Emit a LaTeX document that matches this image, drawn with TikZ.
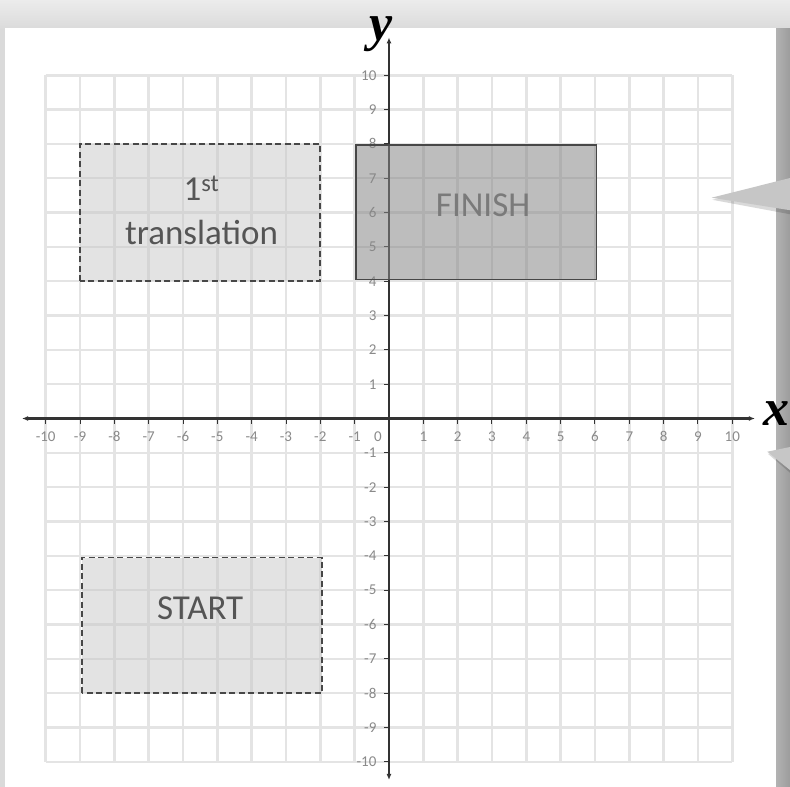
\documentclass[tikz,border=0pt]{standalone}
\usepackage{fontspec}
\setmainfont{Carlito}
\newfontfamily\axfont{Liberation Serif}
\usetikzlibrary{arrows.meta}
\definecolor{bgc}{HTML}{DADADA}
\definecolor{gridc}{HTML}{E4E4E4}
\definecolor{axisc}{HTML}{333333}
\definecolor{tickc}{HTML}{8A8A8A}
\definecolor{boxline}{HTML}{474747}
\definecolor{lightfill}{HTML}{C8C8C8}
\definecolor{darkfill}{HTML}{878787}
\definecolor{txtc}{HTML}{555555}
\definecolor{fintxt}{HTML}{7A7A7A}
\definecolor{stripc}{HTML}{9C9C9C}
\definecolor{calloutc}{HTML}{C6C6C6}
\tikzset{
  gridline/.style={draw=gridc, line width=2.6pt},
  axisline/.style={draw=axisc, line width=2.4pt, {Latex[length=6pt,width=5pt]}-{Latex[length=6pt,width=5pt]}},
  tickmark/.style={draw=axisc, line width=1pt},
  ticklab/.style={text=tickc, font=\fontsize{15}{16}\selectfont, inner sep=0pt},
  dashbox/.style={draw=boxline, dashed, dash pattern=on 6pt off 3.5pt, line width=1.9pt, fill=lightfill, fill opacity=0.5},
  solidbox/.style={draw=boxline, line width=1.4pt, fill=darkfill, fill opacity=0.55},
  boxtext/.style={text=txtc, font=\fontsize{35}{40}\selectfont, inner sep=0pt},
  axlabel/.style={text=black, font=\axfont\bfseries\itshape\fontsize{52}{56}\selectfont, inner sep=0pt, anchor=base},
  callout/.style={fill=calloutc}
}
\begin{document}
\begin{tikzpicture}[x=34.33pt,y=34.33pt]
\useasboundingbox (-11.3312,-10.734) rectangle (11.681,12.191);
% background
\fill[bgc] (-11.3312,-10.734) rectangle (11.681,12.191);
\shade[top color=gray!15, bottom color=gray!28] (-11.3312,11.375) rectangle (11.681,12.191);
% right strip (shadow / next page)
\shade[left color=gray!60, right color=stripc] (11.273,-10.734) rectangle (11.681,11.375);
% page
\fill[white] (-11.186,-10.734) rectangle (11.273,11.375);
% grid
\foreach \i in {-10,...,10} {
  \draw[gridline] (\i,-10) -- (\i,10);
  \draw[gridline] (-10,\i) -- (10,\i);
}
% dashed boxes
\draw[dashbox] (-9,4) rectangle (-2,8);
\draw[dashbox] (-8.95,-8) rectangle (-1.95,-4.05);
% axes
\draw[axisline] (-10.69,0) -- (10.66,0);
\draw[axisline] (0,-10.53) -- (0,11.1);
% ticks and labels
\foreach \i in {-10,...,-1,1,2,...,10} {
  \draw[tickmark] (\i,0) -- (\i,-0.15);
  \node[ticklab] (xl\i) at (\i,-0.53) {\i};
  \draw[tickmark] (0,\i) -- (-0.15,\i);
  \node[ticklab, anchor=east] (yl\i) at (-0.36,\i) {\i};
}
\node[ticklab] (zero) at (-0.32,-0.53) {0};
% finish box
\draw[solidbox] (-0.96,4.05) rectangle (6.05,7.97);
% box texts
\node[boxtext] (one) at (-5.46,6.7) {1\textsuperscript{st}};
\node[boxtext] (trans) at (-5.46,5.42) {translation};
\node[boxtext] (start) at (-5.5,-5.52) {START};
\node[boxtext, text=fintxt] (finish) at (2.74,6.2) {FINISH};
% axis labels
\node[axlabel] (ylab) at (-0.22,11.0) {y};
\node[axlabel] (xlab) at (11.28,-0.19) {x};
% callout pointers
\fill[black, opacity=0.15] (9.42,6.37) -- (11.681,6.95) -- (11.681,5.95) -- cycle;
\fill[callout] (9.40,6.432) -- (11.681,7.005) -- (11.681,6.067) -- cycle;
\fill[black, opacity=0.15] (11.04,-1.03) -- (11.681,-0.9) -- (11.681,-1.58) -- cycle;
\fill[callout] (11.02,-0.967) -- (11.681,-0.83) -- (11.681,-1.5) -- cycle;
\end{tikzpicture}
\end{document}
